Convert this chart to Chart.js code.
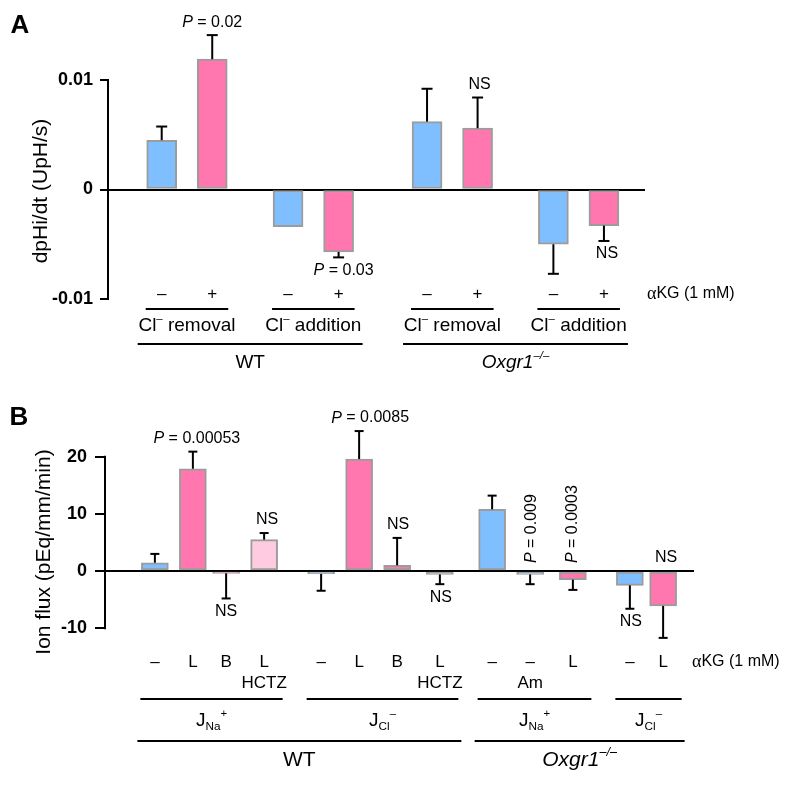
<!DOCTYPE html>
<html>
<head>
<meta charset="utf-8">
<script src="https://cdn.jsdelivr.net/npm/chart.js@4.4.1/dist/chart.umd.min.js"></script>
<style>
body { margin: 0; background: #fff; }
#wrap { position: relative; width: 796px; height: 795px; }
canvas { position: absolute; left: 0; }
#chartA { top: 0; }
#chartB { top: 380px; }
</style>
</head>
<body>
<div id="wrap">
<canvas id="chartA" width="796" height="380"></canvas>
<canvas id="chartB" width="796" height="415"></canvas>
</div>
<script>
// ---- painel A: dpHi/dt ----
const condA = ['–', '+', '–', '+', '–', '+', '–', '+'];
const valuesA = [0.0045, 0.0119, -0.0034, -0.0057, 0.0062, 0.0056, -0.0050, -0.0033];
const errorsA = [0.00125, 0.0022, 0, 0.0005, 0.003, 0.0028, 0.0027, 0.0014];
const notesA = ['', 'P = 0.02', '', 'P = 0.03', '', 'NS', '', 'NS'];
const subGroupsA = ['Cl^{–} removal', 'Cl^{–} addition', 'Cl^{–} removal', 'Cl^{–} addition'];
const mainGroupsA = ['WT', 'Oxgr1^{–/–}'];
const yTicksA = [-0.01, 0, 0.01];
const yTickLabelsA = ['-0.01', '0', '0.01'];

// ---- painel B: ion flux ----
const condB = ['–', 'L', 'B', 'L', '–', 'L', 'B', 'L', '–', '–', 'L', '–', 'L'];
const drugsB = ['', '', '', 'HCTZ', '', '', '', 'HCTZ', '', 'Am', '', '', ''];
const valuesB = [1.45, 17.9, -0.4, 5.5, -0.5, 19.6, 1.0, -0.6, 10.8, -0.6, -1.5, -2.5, -6.1];
const errorsB = [1.55, 3.0, 4.4, 1.15, 2.95, 4.9, 4.8, 1.7, 2.4, 1.7, 1.8, 4.1, 5.6];
const notesB = ['', 'P = 0.00053', 'NS', 'NS', '', 'P = 0.0085', 'NS', 'NS', '', 'P = 0.009', 'P = 0.0003', 'NS', 'NS'];
const subGroupsB = ['J_{Na}^{+}', 'J_{Cl}^{–}', 'J_{Na}^{+}', 'J_{Cl}^{–}'];
const mainGroupsB = ['WT', 'Oxgr1^{–/–}'];
const yTicksB = [-10, 0, 10, 20];
const yTickLabelsB = ['-10', '0', '10', '20'];

const rowLabel = 'αKG (1 mM)';

const FAMILY = '"Liberation Sans", Arial, Helvetica, sans-serif';
const BLUE = '#80bfff', PINK = '#ff77ae', MAUVE = '#e08bb3', LIGHTPINK = '#ffcbe0', GRAY = '#a8a8a8', EDGE = '#9c9c9c';

const panelA = {
    canvas: 'chartA', letter: 'A', yTitle: 'dpHi/dt (UpH/s)',
    labels: condA, values: valuesA, errors: errorsA, notes: notesA,
    subGroups: subGroupsA, mainGroups: mainGroupsA, yTicks: yTicksA, yTickLabels: yTickLabelsA,
    colors: [BLUE, PINK, BLUE, PINK, BLUE, PINK, BLUE, PINK],
    slots: [8, 16, 28, 36, 50, 58, 70, 78], slotCount: 85,
    subSpans: [[0, 1], [2, 3], [4, 5], [6, 7]], mainSpans: [[0, 3], [4, 7]], italicMain: [false, true],
    noteSide: ['', 'up', '', 'down', '', 'up', '', 'down'],
    noteDx: [0, 0, 0, 5, 0, 2, 0, 3], noteGap: 13,
    yMin: -0.01, yMax: 0.015,
    height: 380, padTop: 25.25, padRight: 151, axisWidth: 108, xAxisHeight: 81,
    tickLength: 8, tickPad: 7, barWidth: 30, cap: 11,
    // os rótulos –/+ ficam acima da base do gráfico, o eixo os cortaria
    condByPlugin: true,
    condY: 294, condSize: 17, rowX: 647,
    subLineY: 309, subLabelY: 326, mainLineY: 344, mainLabelY: 363, groupSize: 19,
    subExt: [1, 1], mainExt: [9, 9],
    titleX: 41, titleY: 191, titleSize: 21, letterX: 20, letterY: 26
};

const panelB = {
    canvas: 'chartB', letter: 'B', yTitle: 'Ion flux (pEq/mm/min)',
    labels: condB, values: valuesB, errors: errorsB, notes: notesB, drugs: drugsB,
    subGroups: subGroupsB, mainGroups: mainGroupsB, yTicks: yTicksB, yTickLabels: yTickLabelsB,
    colors: [BLUE, PINK, MAUVE, LIGHTPINK, BLUE, PINK, PINK, GRAY, BLUE, BLUE, PINK, BLUE, PINK],
    slots: [10, 18, 25, 33, 45, 53, 61, 70, 81, 89, 98, 110, 117], slotCount: 124,
    subSpans: [[0, 3], [4, 7], [8, 10], [11, 12]], mainSpans: [[0, 7], [8, 12]], italicMain: [false, true],
    noteSide: ['', 'up', 'down', 'up', '', 'up', 'up', 'down', '', 'rot', 'rot', 'down', 'up'],
    noteDx: [0, 4, 0, 3, 0, 11, 1, 1, 0, 1, 0, 1, 3], noteGap: 13,
    yMin: -12, yMax: 26,
    height: 415, padTop: 42.5, padRight: 102, axisWidth: 105, xAxisHeight: 155.4,
    tickLength: 10, tickPad: 8, barWidth: 27, cap: 9,
    condByPlugin: false,
    condY: 282, condSize: 17, rowX: 692, drugY: 303,
    subLineY: 319, subLabelY: 341, mainLineY: 361, mainLabelY: 380, groupSize: 19, mainSize: 21,
    subExt: [1, 5], mainExt: [4, 8],
    titleX: 44, titleY: 172, titleSize: 21, letterX: 19, letterY: 38
};

function font(size, italic, bold, family) {
    return (italic ? 'italic ' : '') + (bold ? 'bold ' : '') + size + 'px ' + (family || FAMILY);
}

// texto com ^{sup} e _{sub}
function parseMarkup(str, size, italic) {
    const parts = [];
    str.split(/(\^\{[^}]*\}|_\{[^}]*\})/).forEach(s => {
        if (!s) return;
        if (s.startsWith('^{')) parts.push({ t: s.slice(2, -1), f: font(size * 0.6, italic), dy: -size * 0.38 });
        else if (s.startsWith('_{')) parts.push({ t: s.slice(2, -1), f: font(size * 0.62, italic), dy: size * 0.3 });
        else parts.push({ t: s, f: font(size, italic), dy: 0 });
    });
    return parts;
}

function noteParts(text, size) {
    if (text.startsWith('P ')) {
        return [{ t: 'P', f: font(size, true), dy: 0 }, { t: text.slice(1), f: font(size), dy: 0 }];
    }
    return [{ t: text, f: font(size), dy: 0 }];
}

function drawParts(ctx, parts, x, y, align) {
    let w = 0;
    parts.forEach(p => { ctx.font = p.f; p.w = ctx.measureText(p.t).width; w += p.w; });
    let cx = align === 'center' ? x - w / 2 : x;
    ctx.textAlign = 'left';
    ctx.textBaseline = 'middle';
    parts.forEach(p => { ctx.font = p.f; ctx.fillText(p.t, cx, y + p.dy); cx += p.w; });
}

function hline(ctx, x1, x2, y) {
    ctx.beginPath();
    ctx.moveTo(x1, y);
    ctx.lineTo(x2, y);
    ctx.stroke();
}

function buildSlots(p) {
    const data = new Array(p.slotCount).fill(null);
    const ticks = new Array(p.slotCount).fill('');
    const colors = new Array(p.slotCount).fill(BLUE);
    p.slots.forEach((s, i) => {
        data[s] = p.values[i];
        ticks[s] = p.labels[i];
        colors[s] = p.colors[i];
    });
    return { data, ticks, colors };
}

const extrasPlugin = {
    id: 'extras',
    afterDraw(chart) {
        const p = chart.options.plugins.extras.panel;
        const ctx = chart.ctx;
        const area = chart.chartArea;
        const y = chart.scales.y;
        const meta = chart.getDatasetMeta(0);
        const bars = p.slots.map(s => meta.data[s]);
        const zero = y.getPixelForValue(0);

        ctx.save();
        ctx.fillStyle = '#000';
        ctx.strokeStyle = '#000';
        ctx.lineWidth = 2;

        // eixo y apenas entre os ticks
        ctx.beginPath();
        ctx.moveTo(area.left, y.getPixelForValue(p.yTicks[p.yTicks.length - 1]) - 1);
        ctx.lineTo(area.left, y.getPixelForValue(p.yTicks[0]) + 1);
        ctx.stroke();

        // barras de erro (só para fora)
        const ends = p.values.map((v, i) => {
            const end = v + Math.sign(v) * p.errors[i];
            if (p.errors[i] > 0) {
                const x = bars[i].x;
                const y0 = y.getPixelForValue(v);
                const y1 = y.getPixelForValue(end);
                ctx.beginPath();
                ctx.moveTo(x, y0);
                ctx.lineTo(x, y1);
                ctx.stroke();
                hline(ctx, x - p.cap / 2, x + p.cap / 2, y1);
            }
            return y.getPixelForValue(end);
        });

        // anotações
        p.notes.forEach((text, i) => {
            if (!text) return;
            const x = bars[i].x + p.noteDx[i];
            const side = p.noteSide[i];
            if (side === 'rot') {
                ctx.save();
                ctx.translate(x, zero - 8);
                ctx.rotate(-Math.PI / 2);
                drawParts(ctx, noteParts(text, 16), 0, 0, 'left');
                ctx.restore();
            } else if (side === 'up') {
                const top = Math.min(zero, y.getPixelForValue(p.values[i]), ends[i]);
                drawParts(ctx, noteParts(text, 16), x, top - p.noteGap, 'center');
            } else {
                const bottom = Math.max(zero, y.getPixelForValue(p.values[i]), ends[i]);
                drawParts(ctx, noteParts(text, 16), x, bottom + p.noteGap, 'center');
            }
        });

        if (p.condByPlugin) {
            const xs = chart.scales.x;
            p.slots.forEach(s => {
                drawParts(ctx, [{ t: xs.getLabelForValue(s), f: font(p.condSize), dy: 0 }], xs.getPixelForValue(s), p.condY, 'center');
            });
        }

        // αKG (1 mM)
        drawParts(ctx, [
            { t: rowLabel.charAt(0), f: font(p.condSize + 1, false, false, '"Liberation Serif", "Times New Roman", serif'), dy: 0 },
            { t: rowLabel.slice(1), f: font(16), dy: 0 }
        ], p.rowX, p.condY, 'left');

        // HCTZ / Am
        if (p.drugs) {
            p.drugs.forEach((d, i) => {
                if (d) drawParts(ctx, [{ t: d, f: font(17), dy: 0 }], bars[i].x, p.drugY, 'center');
            });
        }

        // grupos
        const spanX = (span, ext) => {
            const a = bars[span[0]], b = bars[span[1]];
            return [a.x - a.width / 2 - ext[0], b.x + b.width / 2 + ext[1]];
        };
        p.subSpans.forEach((span, g) => {
            const [x1, x2] = spanX(span, p.subExt);
            hline(ctx, x1, x2, p.subLineY);
            drawParts(ctx, parseMarkup(p.subGroups[g], p.groupSize), (x1 + x2) / 2, p.subLabelY, 'center');
        });
        p.mainSpans.forEach((span, g) => {
            const [x1, x2] = spanX(span, p.mainExt);
            hline(ctx, x1, x2, p.mainLineY);
            drawParts(ctx, parseMarkup(p.mainGroups[g], p.mainSize || p.groupSize, p.italicMain[g]), (x1 + x2) / 2, p.mainLabelY, 'center');
        });

        // título do eixo y
        ctx.save();
        ctx.translate(p.titleX, p.titleY);
        ctx.rotate(-Math.PI / 2);
        ctx.font = font(p.titleSize);
        ctx.textAlign = 'center';
        ctx.textBaseline = 'middle';
        ctx.fillText(p.yTitle, 0, 0);
        ctx.restore();

        // letra do painel
        ctx.font = font(26, false, true);
        ctx.textAlign = 'center';
        ctx.textBaseline = 'middle';
        ctx.fillText(p.letter, p.letterX, p.letterY);

        ctx.restore();
    }
};

function criarPainel(p) {
    const built = buildSlots(p);
    const lineHeight = p.condSize * 1.2;
    const bottom = p.height - p.xAxisHeight;
    const condPad = p.condY - bottom - lineHeight / 2;

    return new Chart(document.getElementById(p.canvas), {
        type: 'bar',
        data: {
            labels: built.ticks,
            datasets: [{
                data: built.data,
                backgroundColor: built.colors,
                borderColor: EDGE,
                borderWidth: 2,
                borderSkipped: false,
                barThickness: p.barWidth
            }]
        },
        options: {
            responsive: false,
            animation: false,
            events: [],
            layout: { padding: { top: p.padTop, right: p.padRight, bottom: 0, left: 0 } },
            plugins: {
                legend: { display: false },
                tooltip: { enabled: false },
                extras: { panel: p }
            },
            scales: {
                x: {
                    type: 'category',
                    offset: true,
                    grid: { display: false, drawTicks: false },
                    border: { display: false },
                    ticks: {
                        display: !p.condByPlugin,
                        autoSkip: false, maxRotation: 0, minRotation: 0,
                        padding: Math.max(condPad, 0), color: '#000',
                        font: { family: FAMILY, size: p.condSize }
                    },
                    afterFit: s => { s.height = p.xAxisHeight; }
                },
                y: {
                    min: p.yMin,
                    max: p.yMax,
                    afterBuildTicks: s => { s.ticks = p.yTicks.map(v => ({ value: v })); },
                    grid: {
                        drawOnChartArea: true,
                        drawTicks: true,
                        tickLength: p.tickLength,
                        lineWidth: 2,
                        tickColor: '#000',
                        color: c => (c.tick && c.tick.value === 0 ? '#000' : 'rgba(0,0,0,0)')
                    },
                    border: { display: false },
                    ticks: {
                        padding: p.tickPad, color: '#000',
                        font: { family: FAMILY, size: 18, weight: 'bold' },
                        callback: v => p.yTickLabels[p.yTicks.indexOf(v)]
                    },
                    afterFit: s => { s.width = p.axisWidth; }
                }
            }
        },
        plugins: [extrasPlugin]
    });
}

criarPainel(panelA);
criarPainel(panelB);
</script>
</body>
</html>
